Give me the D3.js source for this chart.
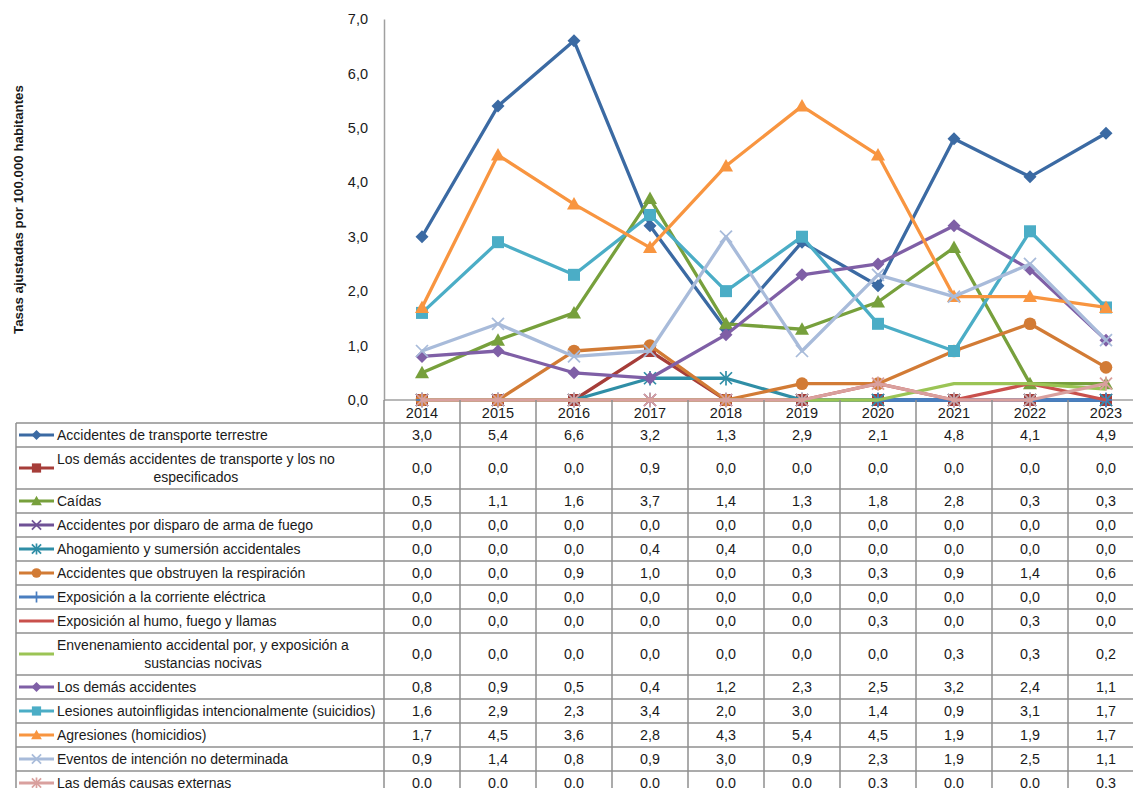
<!DOCTYPE html>
<html>
<head>
<meta charset="utf-8">
<script src="https://cdn.jsdelivr.net/npm/d3@7"></script>
<style>
  html, body { margin: 0; padding: 0; background: #ffffff; }
  svg { display: block; font-family: "Liberation Sans", Arial, sans-serif; }
</style>
</head>
<body>
<svg id="chart" width="1133" height="788"></svg>
<script>
// Years on the category axis
const years = ["2014", "2015", "2016", "2017", "2018", "2019", "2020", "2021", "2022", "2023"];

// Adjusted rates per 100,000 inhabitants, one array per cause
const transporteTerrestre   = [3.0, 5.4, 6.6, 3.2, 1.3, 2.9, 2.1, 4.8, 4.1, 4.9];
const demasTransporte       = [0.0, 0.0, 0.0, 0.9, 0.0, 0.0, 0.0, 0.0, 0.0, 0.0];
const caidas                = [0.5, 1.1, 1.6, 3.7, 1.4, 1.3, 1.8, 2.8, 0.3, 0.3];
const disparoArma           = [0.0, 0.0, 0.0, 0.0, 0.0, 0.0, 0.0, 0.0, 0.0, 0.0];
const ahogamiento           = [0.0, 0.0, 0.0, 0.4, 0.4, 0.0, 0.0, 0.0, 0.0, 0.0];
const obstruyenRespiracion  = [0.0, 0.0, 0.9, 1.0, 0.0, 0.3, 0.3, 0.9, 1.4, 0.6];
const corrienteElectrica    = [0.0, 0.0, 0.0, 0.0, 0.0, 0.0, 0.0, 0.0, 0.0, 0.0];
const humoFuego             = [0.0, 0.0, 0.0, 0.0, 0.0, 0.0, 0.3, 0.0, 0.3, 0.0];
const envenenamiento        = [0.0, 0.0, 0.0, 0.0, 0.0, 0.0, 0.0, 0.3, 0.3, 0.2];
const demasAccidentes       = [0.8, 0.9, 0.5, 0.4, 1.2, 2.3, 2.5, 3.2, 2.4, 1.1];
const suicidios             = [1.6, 2.9, 2.3, 3.4, 2.0, 3.0, 1.4, 0.9, 3.1, 1.7];
const homicidios            = [1.7, 4.5, 3.6, 2.8, 4.3, 5.4, 4.5, 1.9, 1.9, 1.7];
const intencionNoDet        = [0.9, 1.4, 0.8, 0.9, 3.0, 0.9, 2.3, 1.9, 2.5, 1.1];
const demasCausas           = [0.0, 0.0, 0.0, 0.0, 0.0, 0.0, 0.3, 0.0, 0.0, 0.3];

const seriesNames = [
  "Accidentes de transporte terrestre",
  "Los demás accidentes de transporte y los no especificados",
  "Caídas",
  "Accidentes por disparo de arma de fuego",
  "Ahogamiento y sumersión accidentales",
  "Accidentes que obstruyen la respiración",
  "Exposición a la corriente eléctrica",
  "Exposición al humo, fuego y llamas",
  "Envenenamiento accidental por, y exposición a sustancias nocivas",
  "Los demás accidentes",
  "Lesiones autoinfligidas intencionalmente (suicidios)",
  "Agresiones (homicidios)",
  "Eventos de intención no determinada",
  "Las demás causas externas"
];
const seriesValues = [
  transporteTerrestre, demasTransporte, caidas, disparoArma, ahogamiento,
  obstruyenRespiracion, corrienteElectrica, humoFuego, envenenamiento,
  demasAccidentes, suicidios, homicidios, intencionNoDet, demasCausas
];

const yTicks = [0, 1, 2, 3, 4, 5, 6, 7];
const yTitle = "Tasas ajustadas por 100.000 habitantes";

// Per-series styling
const seriesColors = [
  "#3b6aa3", "#a63d39", "#77a03c", "#6f5196", "#2f8ea6", "#d27b35", "#4a7ec0",
  "#c9504c", "#9bc455", "#7f5fa6", "#4badc6", "#f89540", "#a8bbda", "#d9a09e"
];
const seriesMarkers = [
  "diamond", "square", "triangle", "x", "star", "circle", "plus",
  "none", "none", "diamond", "square", "triangle", "x", "star"
];

const svg = d3.select("#chart");

// Layout
const plotLeft = 384, colW = 76;
const plotRight = plotLeft + colW * years.length;
const yTop = 19, yBottom = 400;
const tableLeft = 16, headerBottom = 423;
const gridColor = "#8f8f8f";
const axisColor = "#a0a0a0";
const textColor = "#1a1a1a";
const fontSize = 14;

const x = d3.scaleBand().domain(years).range([plotLeft, plotRight]).padding(0);
const xc = d => x(d) + x.bandwidth() / 2;
const y = d3.scaleLinear().domain([0, 7]).range([yBottom, yTop]);
const fmt = v => d3.format(".1f")(v).replace(".", ",");

// Y axis
const yAxis = d3.axisLeft(y).tickValues(yTicks).tickSize(0).tickPadding(16).tickFormat(fmt);
const yG = svg.append("g").attr("transform", `translate(${plotLeft},0)`).call(yAxis);
yG.select(".domain").attr("stroke", axisColor).attr("stroke-width", 1.5);
yG.selectAll("text").attr("font-size", 14.5).attr("fill", textColor)
  .attr("font-family", "Liberation Sans, Arial, sans-serif");

// Y axis title
svg.append("text")
  .attr("transform", `translate(23,${(yTop + yBottom) / 2}) rotate(-90)`)
  .attr("text-anchor", "middle")
  .attr("font-size", 13.3).attr("font-weight", "bold").attr("fill", textColor)
  .text(yTitle);

// X axis baseline
svg.append("line")
  .attr("x1", plotLeft).attr("x2", plotRight)
  .attr("y1", yBottom).attr("y2", yBottom)
  .attr("stroke", axisColor).attr("stroke-width", 1.5);

// Marker drawing
function drawMarker(g, type, cx, cy, color, s) {
  const k = s / 6;
  if (type === "diamond") {
    g.append("path").attr("d", `M${cx},${cy - 6.5 * k}L${cx + 6.5 * k},${cy}L${cx},${cy + 6.5 * k}L${cx - 6.5 * k},${cy}Z`)
      .attr("fill", color);
  } else if (type === "square") {
    g.append("rect").attr("x", cx - 6 * k).attr("y", cy - 6 * k)
      .attr("width", 12 * k).attr("height", 12 * k).attr("fill", color);
  } else if (type === "triangle") {
    g.append("path").attr("d", `M${cx},${cy - 7 * k}L${cx + 7 * k},${cy + 5.5 * k}L${cx - 7 * k},${cy + 5.5 * k}Z`)
      .attr("fill", color);
  } else if (type === "circle") {
    g.append("circle").attr("cx", cx).attr("cy", cy).attr("r", 6.3 * k).attr("fill", color);
  } else if (type === "x" || type === "star" || type === "plus") {
    const r = 6 * k;
    const segs = [];
    if (type !== "plus") {
      segs.push([cx - r, cy - r, cx + r, cy + r], [cx - r, cy + r, cx + r, cy - r]);
    }
    if (type === "star" || type === "plus") {
      segs.push([cx, cy - r * 1.2, cx, cy + r * 1.2]);
    }
    if (type === "plus") {
      segs.push([cx - r, cy, cx + r, cy]);
    }
    segs.forEach(s2 => g.append("line")
      .attr("x1", s2[0]).attr("y1", s2[1]).attr("x2", s2[2]).attr("y2", s2[3])
      .attr("stroke", color).attr("stroke-width", 1.7));
  }
}

// Lines and markers
const line = d3.line().x((d, i) => xc(years[i])).y(d => y(d));
const plotG = svg.append("g");
seriesValues.forEach((vals, si) => {
  const g = plotG.append("g");
  g.append("path").datum(vals)
    .attr("d", line)
    .attr("fill", "none")
    .attr("stroke", seriesColors[si])
    .attr("stroke-width", 3.3)
    .attr("stroke-linejoin", "round");
  if (seriesMarkers[si] !== "none") {
    vals.forEach((v, i) => drawMarker(g, seriesMarkers[si], xc(years[i]), y(v), seriesColors[si], 6));
  }
});

// Data table
const tableG = svg.append("g");

// Header year labels
years.forEach(yr => {
  tableG.append("text")
    .attr("x", xc(yr)).attr("y", (yBottom + headerBottom) / 2 + 1)
    .attr("text-anchor", "middle").attr("dominant-baseline", "central")
    .attr("font-size", 14.5).attr("fill", textColor).text(yr);
});

// Word-wrap legend labels to the legend column width
const textX = 57, maxTextW = 326;
const measure = svg.append("text").attr("font-size", fontSize).attr("visibility", "hidden");
function wrap(label) {
  const words = label.split(" ");
  const lines = [];
  let cur = "";
  words.forEach(w => {
    const test = cur ? cur + " " + w : w;
    measure.text(test);
    if (measure.node().getComputedTextLength() > maxTextW && cur) {
      lines.push(cur);
      cur = w;
    } else {
      cur = test;
    }
  });
  lines.push(cur);
  return lines;
}

const lineH = 18, baseRowH = 24;
let rowTop = headerBottom;
const rowTops = [];
seriesNames.forEach((name, si) => {
  const lines = wrap(name);
  const h = baseRowH + (lines.length - 1) * lineH;
  const cy = rowTop + h / 2;
  rowTops.push(rowTop);

  // legend key
  const color = seriesColors[si];
  tableG.append("line").attr("x1", 19).attr("x2", 54).attr("y1", cy).attr("y2", cy)
    .attr("stroke", color).attr("stroke-width", 3);
  if (seriesMarkers[si] !== "none") drawMarker(tableG, seriesMarkers[si], 36.5, cy, color, 4.6);

  // label lines, centred within the block
  let blockW = 0;
  lines.forEach(l => { measure.text(l); blockW = Math.max(blockW, measure.node().getComputedTextLength()); });
  lines.forEach((l, li) => {
    const ly = cy + (li - (lines.length - 1) / 2) * lineH;
    tableG.append("text")
      .attr("x", lines.length > 1 ? textX + blockW / 2 : textX)
      .attr("y", ly)
      .attr("text-anchor", lines.length > 1 ? "middle" : "start")
      .attr("dominant-baseline", "central")
      .attr("font-size", fontSize).attr("fill", textColor).text(l);
  });

  // values
  seriesValues[si].forEach((v, i) => {
    tableG.append("text")
      .attr("x", xc(years[i])).attr("y", cy)
      .attr("text-anchor", "middle").attr("dominant-baseline", "central")
      .attr("font-size", 14.3).attr("fill", textColor).text(fmt(v));
  });

  rowTop += h;
});
rowTops.push(rowTop);
measure.remove();

// Grid lines
rowTops.forEach(t => {
  tableG.append("line").attr("x1", tableLeft).attr("x2", plotRight)
    .attr("y1", t).attr("y2", t).attr("stroke", gridColor).attr("stroke-width", 1.5);
});
tableG.append("line").attr("x1", tableLeft).attr("x2", tableLeft)
  .attr("y1", headerBottom).attr("y2", rowTop).attr("stroke", gridColor).attr("stroke-width", 1.5);
d3.range(years.length + 1).forEach(i => {
  const xv = plotLeft + i * colW;
  tableG.append("line").attr("x1", xv).attr("x2", xv)
    .attr("y1", yBottom).attr("y2", rowTop).attr("stroke", gridColor).attr("stroke-width", 1.5);
});
</script>
</body>
</html>
